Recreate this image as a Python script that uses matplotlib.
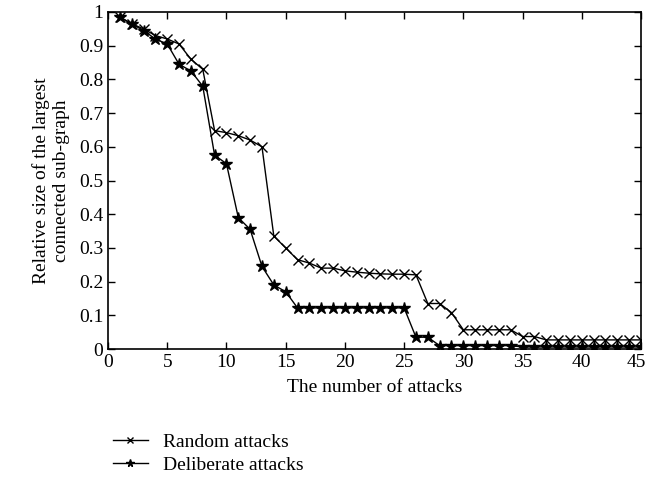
import matplotlib.pyplot as plt
import matplotlib.transforms as mtransforms
import numpy as np

# attack counts
attacks = np.arange(1, 46)

# relative size of the largest connected sub-graph
random_attacks = [0.985, 0.965, 0.95, 0.93, 0.92, 0.905, 0.86, 0.83, 0.648, 0.642,
                  0.633, 0.62, 0.60, 0.335, 0.30, 0.265, 0.255, 0.24, 0.24, 0.232,
                  0.228, 0.225, 0.223, 0.222, 0.222, 0.22, 0.135, 0.135, 0.108, 0.057,
                  0.057, 0.057, 0.057, 0.057, 0.037, 0.037, 0.027, 0.027, 0.027, 0.027,
                  0.027, 0.027, 0.027, 0.027, 0.027]
deliberate_attacks = [0.985, 0.965, 0.945, 0.92, 0.905, 0.845, 0.825, 0.78, 0.575, 0.55,
                      0.39, 0.355, 0.245, 0.19, 0.17, 0.122, 0.122, 0.122, 0.122, 0.122,
                      0.122, 0.122, 0.122, 0.122, 0.122, 0.035, 0.035, 0.01, 0.01, 0.01,
                      0.01, 0.01, 0.01, 0.01, 0.006, 0.006, 0.006, 0.006, 0.006, 0.006,
                      0.006, 0.006, 0.006, 0.006, 0.006]

plt.rcParams['font.family'] = ['Liberation Serif', 'DejaVu Serif']
plt.rcParams['font.size'] = 14

fig = plt.figure(figsize=(6.45, 4.83), dpi=100)
ax = fig.add_axes([108 / 645, 1 - 349 / 483, 533 / 645, 337 / 483])

ax.plot(attacks, random_attacks, color="black", lw=1, marker="x", ms=6.5, mew=1,
        label="Random attacks")
ax.plot(attacks, deliberate_attacks, color="black", lw=1, marker="*", ms=9,
        label="Deliberate attacks")

ax.set_xlim(0, 45)
ax.set_ylim(0, 1)
ax.set_xticks(np.arange(0, 46, 5))
ax.set_yticks(np.arange(0, 1.01, 0.1))
ax.set_yticklabels(["0", "0.1", "0.2", "0.3", "0.4", "0.5", "0.6", "0.7", "0.8", "0.9", "1"])
ax.tick_params(direction="in", top=True, right=True, length=5, width=1, labelsize=14)
for s in ax.spines.values():
    s.set_linewidth(1.2)

# nudge the last x label so "45" stays inside the figure
last = ax.get_xticklabels()[-1]
last.set_transform(last.get_transform() +
                   mtransforms.ScaledTranslation(-5 / 100, 0, fig.dpi_scale_trans))

ax.set_xlabel("The number of attacks", fontsize=14, labelpad=6)
ax.set_ylabel("Relative size of the largest\nconnected sub-graph", fontsize=14,
              linespacing=1.25, labelpad=6)

fig.legend(loc="upper left", bbox_to_anchor=(95 / 645, 1 - 416 / 483), frameon=False,
           fontsize=14, handlelength=1.8, markerscale=0.6, labelspacing=0.25)

plt.savefig("out.png", dpi=100)
